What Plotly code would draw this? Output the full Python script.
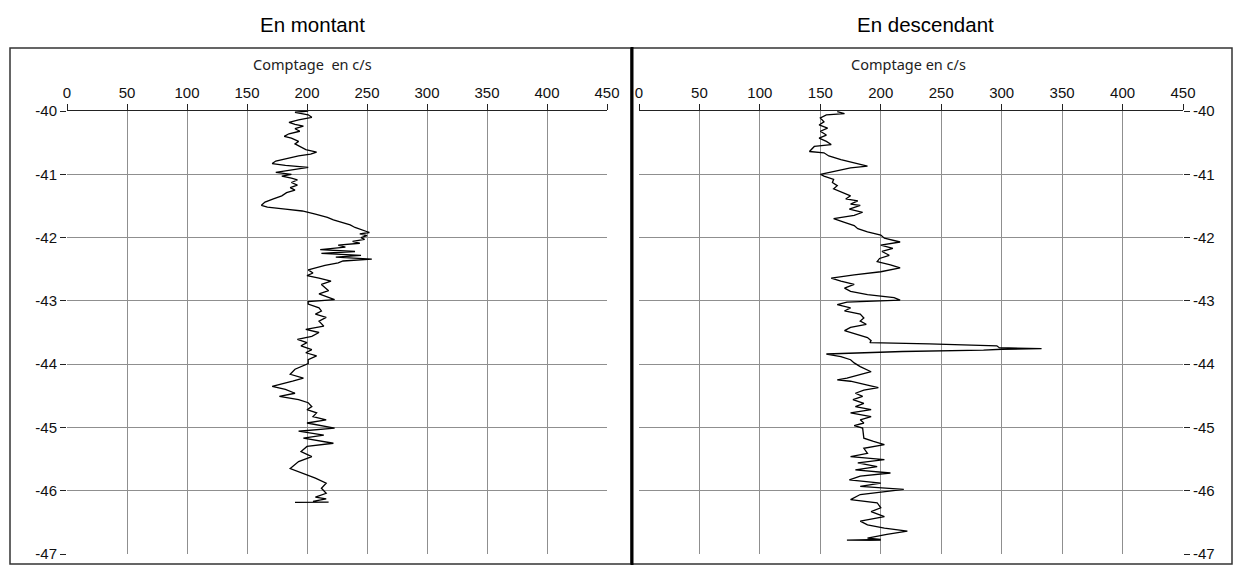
import plotly.graph_objects as go

# Gamma log readings, rising run ("En montant")
up_depth = [-40.00, -40.02, -40.06, -40.10, -40.14, -40.18, -40.21, -40.24, -40.28, -40.32,
            -40.36, -40.40, -40.43, -40.48, -40.52, -40.56, -40.61, -40.65, -40.68, -40.71,
            -40.75, -40.79, -40.83, -40.86, -40.89, -40.92, -40.95, -40.97, -41.00, -41.03,
            -41.06, -41.09, -41.13, -41.17, -41.21, -41.25, -41.29, -41.34, -41.39, -41.44,
            -41.49, -41.52, -41.55, -41.58, -41.63, -41.68, -41.72, -41.76, -41.80, -41.84,
            -41.88, -41.92, -41.94, -41.97, -42.00, -42.03, -42.06, -42.09, -42.12, -42.15,
            -42.19, -42.22, -42.25, -42.28, -42.31, -42.34, -42.37, -42.40, -42.44, -42.47,
            -42.51, -42.56, -42.60, -42.64, -42.69, -42.74, -42.79, -42.84, -42.89, -42.95,
            -42.98, -43.01, -43.05, -43.11, -43.16, -43.21, -43.26, -43.32, -43.40, -43.45,
            -43.50, -43.56, -43.61, -43.66, -43.71, -43.77, -43.82, -43.87, -43.93, -43.99,
            -44.08, -44.16, -44.22, -44.27, -44.35, -44.40, -44.46, -44.51, -44.56, -44.61,
            -44.67, -44.72, -44.77, -44.83, -44.88, -44.93, -45.01, -45.06, -45.12, -45.17,
            -45.25, -45.30, -45.38, -45.46, -45.54, -45.65, -45.72, -45.80, -45.88, -45.96,
            -46.04, -46.10, -46.13, -46.17, -46.18, -46.185]
up_count = [201, 190, 201, 204, 193, 185, 190, 197, 190, 194,
            185, 181, 187, 193, 190, 194, 199, 208, 203, 193,
            182, 174, 171, 182, 201, 190, 178, 174, 187, 179,
            187, 192, 187, 192, 186, 190, 183, 179, 172, 165,
            162, 167, 182, 196, 207, 217, 222, 230, 236, 240,
            246, 252, 244, 250, 245, 248, 238, 244, 226, 232,
            211, 240, 212, 245, 224, 254, 230, 226, 215, 209,
            201, 205, 200, 210, 220, 212, 215, 218, 210, 220,
            223, 201, 201, 210, 212, 207, 216, 210, 214, 199,
            210, 204, 192, 200, 195, 204, 199, 208, 201, 201,
            190, 186, 197, 188, 171, 182, 190, 177, 193, 201,
            204, 200, 208, 205, 216, 200, 223, 193, 214, 197,
            222, 200, 195, 204, 193, 186, 196, 207, 216, 212,
            216, 207, 216, 205, 218, 190]

# Gamma log readings, descending run ("En descendant")
down_depth = [-40.01, -40.04, -40.06, -40.11, -40.17, -40.22, -40.27, -40.32, -40.38, -40.43,
              -40.48, -40.53, -40.56, -40.61, -40.64, -40.66, -40.71, -40.77, -40.82, -40.87,
              -40.90, -40.95, -41.00, -41.03, -41.08, -41.13, -41.18, -41.23, -41.29, -41.34,
              -41.39, -41.42, -41.47, -41.49, -41.55, -41.60, -41.65, -41.70, -41.76, -41.81,
              -41.86, -41.91, -41.96, -42.01, -42.07, -42.12, -42.17, -42.22, -42.28, -42.33,
              -42.38, -42.43, -42.48, -42.54, -42.59, -42.64, -42.69, -42.74, -42.80, -42.85,
              -42.90, -42.95, -42.99, -43.02, -43.06, -43.11, -43.16, -43.21, -43.27, -43.32,
              -43.37, -43.42, -43.47, -43.53, -43.58, -43.63, -43.66, -43.68, -43.71, -43.74,
              -43.755, -43.765, -43.78, -43.80, -43.82, -43.84, -43.88, -43.93, -43.98, -44.04,
              -44.12, -44.17, -44.22, -44.25, -44.27, -44.33, -44.37, -44.41, -44.46, -44.51,
              -44.56, -44.62, -44.67, -44.72, -44.77, -44.83, -44.88, -44.93, -44.97, -45.01,
              -45.12, -45.17, -45.22, -45.27, -45.33, -45.41, -45.46, -45.51, -45.56, -45.62,
              -45.67, -45.72, -45.77, -45.83, -45.88, -45.93, -45.98, -46.02, -46.06, -46.14,
              -46.19, -46.27, -46.33, -46.41, -46.48, -46.54, -46.59, -46.64, -46.69, -46.75,
              -46.77, -46.78, -46.785]
down_count = [164, 170, 155, 150, 153, 149, 156, 150, 155, 149,
              155, 159, 145, 142, 141, 153, 157, 167, 178, 189,
              175, 161, 150, 153, 161, 160, 164, 161, 168, 175,
              171, 181, 175, 183, 174, 185, 178, 161, 170, 178,
              181, 189, 200, 203, 216, 200, 210, 201, 207, 199,
              197, 208, 216, 200, 178, 159, 167, 178, 170, 175,
              189, 211, 216, 172, 164, 175, 170, 183, 186, 183,
              188, 175, 170, 181, 189, 192, 191, 240, 296, 298,
              333, 300, 285, 218, 177, 155, 167, 175, 178, 183,
              192, 183, 172, 164, 175, 189, 198, 186, 179, 185,
              177, 186, 179, 192, 175, 192, 183, 186, 178, 185,
              186, 186, 194, 203, 186, 189, 175, 203, 181, 197,
              179, 208, 183, 174, 200, 183, 219, 203, 183, 175,
              197, 200, 192, 203, 183, 189, 203, 222, 205, 189,
              200, 172, 200]

count_ticks = list(range(0, 451, 50))
depth_ticks = list(range(-47, -39))
depth_labels = ["-47", "-46", "-45", "-44", "-43", "-42", "-41", "-40"]

W, H = 1236, 565


def px(x):
    return x / W


def py(y):
    return 1 - y / H


fig = go.Figure()
fig.add_trace(go.Scatter(x=up_count, y=up_depth, mode="lines",
                         line=dict(color="black", width=1.3),
                         xaxis="x", yaxis="y", showlegend=False))
fig.add_trace(go.Scatter(x=down_count, y=down_depth, mode="lines",
                         line=dict(color="black", width=1.3),
                         xaxis="x2", yaxis="y2", showlegend=False))

tick_font = dict(family="Liberation Sans Narrow, Liberation Sans, Arial", size=15, color="#111")
x_common = dict(range=[0, 450], tickvals=count_ticks, side="top", showgrid=True,
                gridcolor="#8f8f8f", gridwidth=1, showline=True, linecolor="#222",
                linewidth=1, ticks="outside", ticklen=6, tickcolor="#222",
                zeroline=False, tickfont=tick_font, fixedrange=True, automargin=False)
y_common = dict(range=[-47, -40], tickvals=depth_ticks, ticktext=depth_labels,
                showgrid=True, gridcolor="#8f8f8f", gridwidth=1, showline=False,
                ticks="outside", ticklen=6, tickcolor="#222", zeroline=False,
                tickfont=tick_font, fixedrange=True, automargin=False)

ydom = [py(554), py(111)]
fig.update_layout(
    width=W, height=H, autosize=False,
    margin=dict(l=0, r=0, t=0, b=0, pad=0),
    paper_bgcolor="white", plot_bgcolor="white",
    xaxis=dict(domain=[px(67), px(607)], anchor="y", **x_common),
    yaxis=dict(domain=ydom, anchor="x", side="left", **y_common),
    xaxis2=dict(domain=[px(639), px(1183)], anchor="y2", **x_common),
    yaxis2=dict(domain=ydom, anchor="x2", side="right", **y_common),
)

# Panel frames and the heavy divider between the two runs
frame = dict(type="rect", xref="paper", yref="paper", line=dict(color="#333", width=1.5),
             fillcolor="rgba(0,0,0,0)", layer="above")
fig.add_shape(x0=px(10), x1=px(631), y0=py(564), y1=py(48), **frame)
fig.add_shape(x0=px(632), x1=px(1232), y0=py(564), y1=py(48), **frame)
fig.add_shape(type="line", xref="paper", yref="paper", x0=px(632), x1=px(632),
              y0=py(565), y1=py(47), line=dict(color="black", width=3), layer="above")

title_font = dict(family="Liberation Sans, Arial", size=20.5, color="black")
label_font = dict(family="Noto Sans, DejaVu Sans", size=14.5, color="#222")
for text, x, y, f in [("En montant", 312, 25, title_font),
                      ("En descendant", 925, 25, title_font),
                      ("Comptage  en c/s", 312, 64, label_font),
                      ("Comptage en c/s", 908, 64, label_font)]:
    fig.add_annotation(text=text, x=px(x), y=py(y), xref="paper", yref="paper",
                       showarrow=False, font=f, xanchor="center", yanchor="middle")

fig.write_html("out.html")
